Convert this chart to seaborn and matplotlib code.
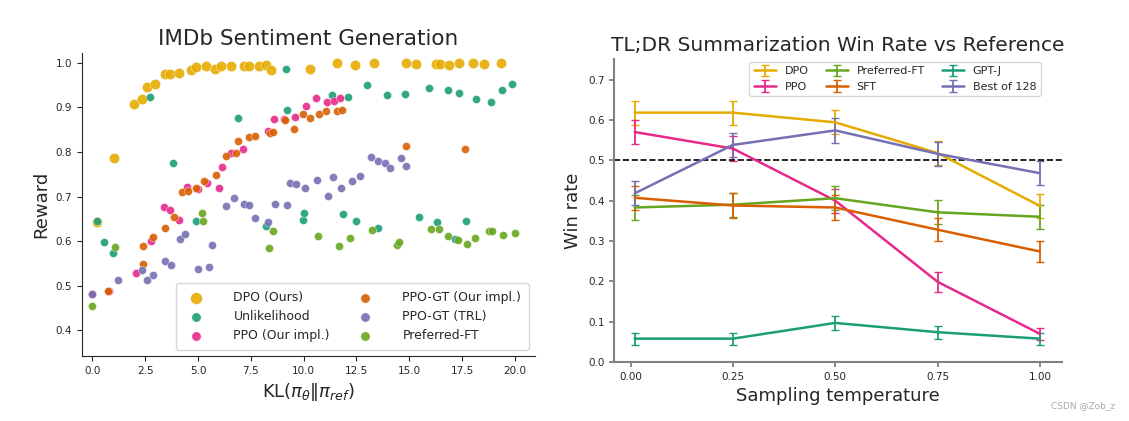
import numpy as np
import pandas as pd
import matplotlib
matplotlib.use("Agg")
import matplotlib.pyplot as plt
import seaborn as sns

sns.set_style("ticks")
plt.rcParams['font.family'] = ['DejaVu Sans']

# --- IMDb: KL vs reward ---
dpo_x = [0.24, 1.04, 1.99, 2.34, 2.60, 2.95, 3.44, 3.69, 4.09, 4.67, 4.92, 5.37, 5.79, 6.08, 6.56, 7.19, 7.41,
         7.90, 8.20, 8.44, 10.31, 11.59, 12.43, 13.31, 14.83, 15.33, 16.28, 16.45, 16.86, 17.36, 18.03, 18.53, 19.35]
dpo_y = [0.643, 0.787, 0.907, 0.919, 0.945, 0.953, 0.974, 0.974, 0.978, 0.984, 0.991, 0.994, 0.987, 0.992, 0.992,
         0.994, 0.994, 0.994, 0.996, 0.984, 0.987, 0.999, 0.996, 0.999, 0.999, 0.997, 0.997, 0.997, 0.996, 0.999,
         0.999, 0.997, 0.999]

unl_x = [0.21, 0.57, 0.99, 2.74, 3.82, 4.89, 6.88, 8.22, 9.18, 9.21, 9.98, 10.03, 11.36, 11.88, 12.11, 12.48,
         12.98, 13.52, 13.96, 14.78, 15.47, 15.95, 16.32, 16.84, 17.16, 17.36, 17.67, 18.14, 18.86, 19.37, 19.86]
unl_y = [0.645, 0.599, 0.574, 0.923, 0.776, 0.645, 0.877, 0.634, 0.986, 0.894, 0.648, 0.664, 0.929, 0.661, 0.924,
         0.646, 0.950, 0.630, 0.929, 0.931, 0.654, 0.943, 0.643, 0.940, 0.604, 0.933, 0.645, 0.918, 0.913, 0.940, 0.952]

ppo_x = [-0.03, 0.79, 2.07, 2.79, 3.38, 3.68, 4.12, 4.48, 4.99, 5.41, 5.98, 6.15, 6.56, 7.15, 8.31, 8.58, 9.09,
         9.61, 10.10, 10.57, 11.10, 11.44, 11.73]
ppo_y = [0.481, 0.489, 0.528, 0.600, 0.676, 0.669, 0.648, 0.722, 0.716, 0.731, 0.720, 0.767, 0.797, 0.806, 0.847,
         0.873, 0.875, 0.879, 0.903, 0.922, 0.912, 0.914, 0.921]

ppogt_x = [0.76, 2.38, 2.41, 2.87, 3.46, 3.85, 4.26, 4.51, 4.91, 5.27, 5.85, 6.34, 6.80, 6.89, 7.40, 7.70, 8.39,
           8.54, 9.13, 9.53, 9.98, 10.32, 10.74, 11.04, 11.58, 11.83, 14.84, 17.62]
ppogt_y = [0.489, 0.589, 0.549, 0.610, 0.630, 0.654, 0.710, 0.713, 0.719, 0.734, 0.748, 0.791, 0.798, 0.824, 0.833,
           0.835, 0.842, 0.844, 0.872, 0.851, 0.885, 0.877, 0.885, 0.892, 0.892, 0.894, 0.814, 0.806]

trl_x = [-0.03, 1.22, 2.35, 2.60, 2.86, 3.46, 3.74, 4.16, 4.40, 5.02, 5.52, 5.68, 6.31, 6.70, 7.16, 7.41, 7.70,
         8.30, 8.63, 9.21, 9.37, 9.64, 10.05, 10.62, 11.17, 11.40, 11.78, 12.27, 12.68, 13.17, 13.53, 13.86, 14.10,
         14.61, 14.86]
trl_y = [0.481, 0.513, 0.536, 0.513, 0.523, 0.556, 0.547, 0.604, 0.615, 0.538, 0.542, 0.591, 0.678, 0.696, 0.683,
         0.681, 0.651, 0.643, 0.684, 0.682, 0.731, 0.728, 0.719, 0.738, 0.702, 0.745, 0.719, 0.734, 0.746, 0.788,
         0.779, 0.776, 0.763, 0.787, 0.768]

pft_x = [-0.03, 1.09, 5.18, 5.24, 8.36, 8.54, 10.69, 11.66, 12.19, 13.25, 14.40, 14.53, 16.03, 16.40, 16.83, 17.30,
         17.74, 18.11, 18.78, 18.91, 19.43, 20.01]
pft_y = [0.454, 0.586, 0.664, 0.645, 0.584, 0.622, 0.612, 0.589, 0.608, 0.625, 0.592, 0.597, 0.627, 0.627, 0.612,
         0.602, 0.594, 0.607, 0.622, 0.622, 0.614, 0.618]

# --- TL;DR: temperature vs win rate ---
temps = [0.01, 0.25, 0.5, 0.75, 1.0]
win_dpo = [0.618, 0.618, 0.594, 0.518, 0.387]
err_dpo = [0.03, 0.03, 0.03, 0.03, 0.03]
win_ppo = [0.570, 0.529, 0.400, 0.199, 0.070]
err_ppo = [0.03, 0.03, 0.03, 0.025, 0.015]
win_pft = [0.383, 0.390, 0.406, 0.371, 0.360]
err_pft = [0.03, 0.03, 0.03, 0.03, 0.03]
win_sft = [0.407, 0.388, 0.383, 0.328, 0.274]
err_sft = [0.03, 0.03, 0.03, 0.028, 0.027]
win_gptj = [0.058, 0.058, 0.097, 0.074, 0.058]
err_gptj = [0.015, 0.015, 0.018, 0.016, 0.015]
win_bo128 = [0.418, 0.538, 0.574, 0.516, 0.468]
err_bo128 = [0.03, 0.03, 0.03, 0.03, 0.03]

pal = sns.color_palette("Dark2")
c_teal, c_orange, c_purple, c_pink, c_green, c_yellow = pal[0], pal[1], pal[2], pal[3], pal[4], pal[5]

fig = plt.figure(figsize=(11.29, 4.21), dpi=100)
ax1 = fig.add_axes([0.0724, 0.154, 0.4015, 0.720])
ax2 = fig.add_axes([0.544, 0.140, 0.3966, 0.719])

groups = [
    ('DPO (Ours)', dpo_x, dpo_y, c_yellow, 55),
    ('Unlikelihood', unl_x, unl_y, c_teal, 34),
    ('PPO (Our impl.)', ppo_x, ppo_y, c_pink, 34),
    ('PPO-GT (Our impl.)', ppogt_x, ppogt_y, c_orange, 34),
    ('PPO-GT (TRL)', trl_x, trl_y, c_purple, 34),
    ('Preferred-FT', pft_x, pft_y, c_green, 34),
]
for name, xs, ys, col, s in groups:
    df = pd.DataFrame({'kl': xs, 'reward': ys})
    sns.scatterplot(data=df, x='kl', y='reward', color=col, s=s, alpha=0.9,
                    edgecolor='white', linewidth=0.3, label=name, ax=ax1)

ax1.set_xlim(-0.5, 20.95)
ax1.set_ylim(0.342, 1.022)
ax1.set_xticks([0, 2.5, 5, 7.5, 10, 12.5, 15, 17.5, 20])
ax1.set_yticks([0.4, 0.5, 0.6, 0.7, 0.8, 0.9, 1.0])
ax1.tick_params(labelsize=7.5)
ax1.set_title('IMDb Sentiment Generation', fontsize=15.5)
ax1.set_xlabel(r'KL($\pi_\theta \| \pi_{ref}$)', fontsize=13)
ax1.set_ylabel('Reward', fontsize=13)
ax1.legend(loc='lower right', ncol=2, fontsize=9, columnspacing=1.8, handletextpad=2.0,
           frameon=True, borderpad=0.6, markerscale=1.15)
sns.despine(ax=ax1)

series = [
    ('DPO', win_dpo, err_dpo, c_yellow),
    ('PPO', win_ppo, err_ppo, c_pink),
    ('Preferred-FT', win_pft, err_pft, c_green),
    ('SFT', win_sft, err_sft, c_orange),
    ('GPT-J', win_gptj, err_gptj, c_teal),
    ('Best of 128', win_bo128, err_bo128, c_purple),
]
for name, ys, es, col in series:
    ax2.errorbar(temps, ys, yerr=es, color=col, lw=1.8, capsize=3, elinewidth=1.3, label=name)
ax2.axhline(0.5, color='black', ls='--', lw=1.2)
ax2.set_ylim(0, 0.75)
ax2.set_xlim(-0.04, 1.054)
ax2.set_xticks([0, 0.25, 0.5, 0.75, 1.0])
ax2.set_yticks([0, 0.1, 0.2, 0.3, 0.4, 0.5, 0.6, 0.7])
ax2.tick_params(labelsize=7.5, color='gray', width=1.3)
for sp in ['left', 'bottom']:
    ax2.spines[sp].set_color('gray')
    ax2.spines[sp].set_linewidth(1.5)
sns.despine(ax=ax2)
ax2.set_title('TL;DR Summarization Win Rate vs Reference', fontsize=14.5)
ax2.set_xlabel('Sampling temperature', fontsize=13)
ax2.set_ylabel('Win rate', fontsize=13)
ax2.legend(loc='upper right', bbox_to_anchor=(0.965, 1.01), ncol=3, fontsize=8,
           columnspacing=1.5, handletextpad=0.8)

fig.text(0.988, 0.025, 'CSDN @Zob_z', ha='right', va='bottom', fontsize=6.5, color='#aaaaaa')

fig.savefig('out.png', dpi=100)
